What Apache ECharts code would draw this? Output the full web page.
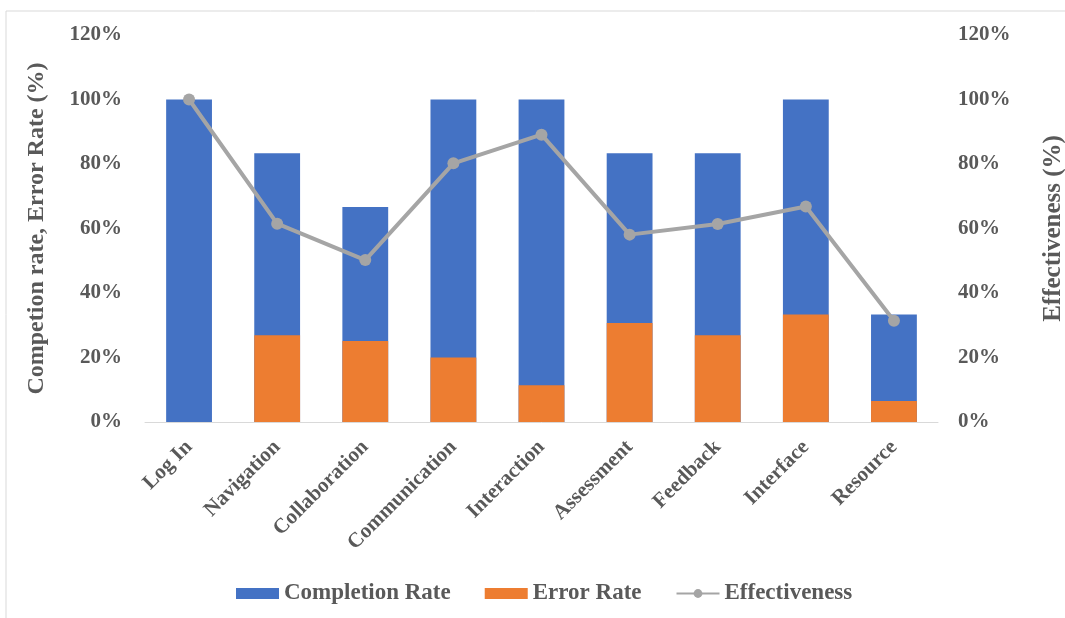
<!DOCTYPE html>
<html>
<head>
<meta charset="utf-8">
<script src="https://cdn.jsdelivr.net/npm/echarts@6/dist/echarts.min.js"></script>
<style>
    html, body {margin: 0; padding: 0; background: #fff;}
    #chart {width: 1065px; height: 618px;}
</style>
</head>
<body>
<div id="chart"></div>
<script>
    const categories = ['Log In', 'Navigation', 'Collaboration', 'Communication', 'Interaction', 'Assessment', 'Feedback', 'Interface', 'Resource'];
    const completionRate = [100, 83.3, 66.7, 100, 100, 83.3, 83.3, 100, 33.3];
    const errorRate = [0, 26.9, 25.1, 20, 11.4, 30.7, 26.9, 33.3, 6.5];
    const effectiveness = [100, 61.5, 50.2, 80.2, 89.1, 58.1, 61.4, 66.8, 31.4];
    const yTicks = [0, 20, 40, 60, 80, 100, 120];

    const textColor = '#595959';
    const font = 'Liberation Serif';

    let chart = echarts.init(document.getElementById('chart'));
    chart.setOption({
        animation: false,
        textStyle: {fontFamily: font},
        graphic: [
            {type: 'line', shape: {x1: 6, y1: 11, x2: 1065, y2: 11}, style: {stroke: '#d9d9d9', lineWidth: 1}},
            {type: 'line', shape: {x1: 6, y1: 11, x2: 6, y2: 618}, style: {stroke: '#d9d9d9', lineWidth: 1}}
        ],
        legend: {
            top: 577,
            left: 231,
            itemGap: 34,
            itemWidth: 43,
            itemHeight: 11,
            textStyle: {fontFamily: font, fontSize: 23, fontWeight: 'bold', color: textColor},
            data: [
                {name: 'Completion Rate', icon: 'rect'},
                {name: 'Error Rate', icon: 'rect'},
                {name: 'Effectiveness'}
            ]
        },
        grid: {
            left: 145,
            right: 127,
            top: 35,
            bottom: 196,
            outerBoundsMode: 'none'
        },
        xAxis: {
            type: 'category',
            data: categories,
            axisLine: {lineStyle: {color: '#d9d9d9', width: 1}},
            axisTick: {show: false},
            axisLabel: {
                rotate: 45,
                interval: 0,
                margin: 22,
                fontFamily: font,
                fontSize: 21,
                fontWeight: 'bold',
                color: textColor
            }
        },
        yAxis: [
            {
                type: 'value',
                min: 0,
                max: 120,
                interval: 20,
                name: 'Competion rate, Error Rate (%)',
                nameLocation: 'middle',
                nameGap: 96,
                nameTextStyle: {fontFamily: font, fontSize: 24, fontWeight: 'bold', color: textColor},
                splitLine: {show: false},
                axisLine: {show: false},
                axisTick: {show: false},
                axisLabel: {
                    margin: 23,
                    fontFamily: font,
                    fontSize: 21,
                    fontWeight: 'bold',
                    color: textColor,
                    formatter: function (v) {
                        return yTicks.indexOf(v) >= 0 ? v + '%' : '';
                    }
                }
            },
            {
                type: 'value',
                min: 0,
                max: 120,
                interval: 20,
                name: 'Effectiveness (%)',
                nameLocation: 'middle',
                nameGap: 103,
                nameRotate: 90,
                nameTextStyle: {fontFamily: font, fontSize: 25, fontWeight: 'bold', color: textColor},
                splitLine: {show: false},
                axisLine: {show: false},
                axisTick: {show: false},
                axisLabel: {
                    margin: 20,
                    fontFamily: font,
                    fontSize: 21,
                    fontWeight: 'bold',
                    color: textColor,
                    formatter: '{value}%'
                }
            }
        ],
        series: [
            {
                name: 'Completion Rate',
                type: 'bar',
                barWidth: '52%',
                barGap: '-100%',
                itemStyle: {color: '#4472C4'},
                data: completionRate
            },
            {
                name: 'Error Rate',
                type: 'bar',
                barWidth: '52%',
                barGap: '-100%',
                itemStyle: {color: '#ED7D31'},
                data: errorRate
            },
            {
                name: 'Effectiveness',
                type: 'line',
                yAxisIndex: 1,
                symbol: 'circle',
                symbolSize: 12,
                lineStyle: {color: '#A5A5A5', width: 4},
                itemStyle: {color: '#A5A5A5'},
                data: effectiveness
            }
        ]
    });
</script>
</body>
</html>
